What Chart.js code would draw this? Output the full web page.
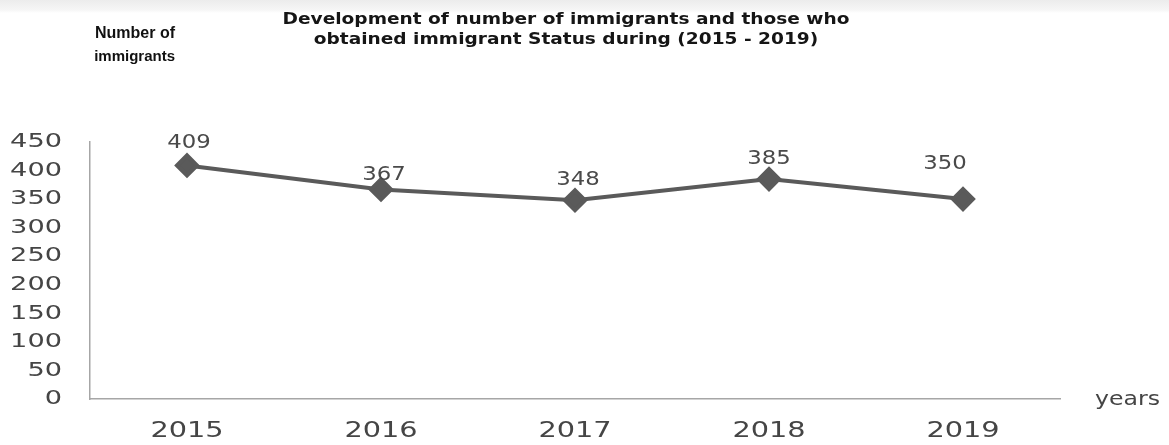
<!DOCTYPE html>
<html>
<head>
<meta charset="utf-8">
<script src="https://cdn.jsdelivr.net/npm/chart.js@4"></script>
<style>
  body { margin: 0; background: #fff; }
  #wrap { position: relative; width: 1169px; height: 445px; overflow: hidden;
    background: linear-gradient(#ececec, #f6f6f6 10px, #fff 13px); }
  #wrap canvas { position: absolute; left: 0; top: 0; }
  .txt { position: absolute; white-space: nowrap; }
  #title { left: 266px; top: 9px; width: 600px; text-align: center;
    font: bold 16px "DejaVu Sans", sans-serif; line-height: 20px; color: #151515;
    transform: scaleX(1.16); transform-origin: 300px 0; }
  #ytitle { left: 60px; top: 21px; width: 115px; text-align: right;
    font: bold 15px "Liberation Sans", sans-serif; line-height: 23px; color: #111; }
  #ytitle span { font-size: 16px; }
  #xtitle { left: 1095px; top: 386px; font: 20px "DejaVu Sans", sans-serif; color: #454545;
    transform: scaleX(1.18); transform-origin: 0 0; }
</style>
</head>
<body>
<div id="wrap">
  <canvas id="myChart" width="1169" height="445"></canvas>
  <div id="title" class="txt">Development of number of immigrants and those who<br>obtained immigrant Status during (2015 - 2019)</div>
  <div id="ytitle" class="txt"><span>Number of</span><br>immigrants</div>
  <div id="xtitle" class="txt">years</div>
</div>
<script>
/******* data *******/
const years = ["2015", "2016", "2017", "2018", "2019"];
const immigrants = [409, 367, 348, 385, 350];
const yTicks = [0, 50, 100, 150, 200, 250, 300, 350, 400, 450];
// label nudges (px) so numbers sit where they were in the picture
const labelShiftX = [2, 3, 3, 0, -18];
const labelShiftY = [-22, -14, -20, -20, -35];

/******* text helper: the scanned chart has wide, stretched glyphs *******/
function wideText(ctx, text, x, y, sx, align) {
    ctx.save();
    ctx.translate(x, y);
    ctx.scale(sx, 1);
    ctx.textAlign = align;
    ctx.textBaseline = "middle";
    ctx.fillText(text, 0, 0);
    ctx.restore();
}

/******* tick labels + value labels *******/
const textLayer = {
    id: "textLayer",
    afterDraw(chart) {
        const ctx = chart.ctx;
        const xs = chart.scales.x, ys = chart.scales.y;
        ctx.save();
        ctx.fillStyle = "#454545";
        ctx.font = '20px "DejaVu Sans", sans-serif';
        yTicks.forEach(v => wideText(ctx, String(v), 62, ys.getPixelForValue(v), 1.36, "right"));
        ctx.font = '21px "DejaVu Sans", sans-serif';
        years.forEach((y, i) => wideText(ctx, y, xs.getPixelForTick(i), 432, 1.37, "center"));

        const meta = chart.getDatasetMeta(0);
        ctx.fillStyle = "#4a4a4a";
        ctx.font = '19px "DejaVu Sans", sans-serif';
        meta.data.forEach((pt, i) => {
            wideText(ctx, String(immigrants[i]), pt.x + labelShiftX[i], pt.y + labelShiftY[i], 1.2, "center");
        });
        ctx.restore();
    }
};

const ctx = document.getElementById("myChart");
const myChart = new Chart(ctx, {
    type: "line",
    data: {
        labels: years,
        datasets: [{
            data: immigrants,
            borderColor: "#5a5a5a",
            backgroundColor: "#5a5a5a",
            borderWidth: 4,
            pointStyle: "rectRot",
            pointRadius: 10,
            pointHoverRadius: 10,
            tension: 0
        }]
    },
    options: {
        responsive: false,
        animation: false,
        layout: { padding: { top: 142, right: 109, left: 0, bottom: 0 } },
        plugins: { legend: { display: false }, tooltip: { enabled: false } },
        scales: {
            x: {
                offset: true,
                grid: { display: false, drawTicks: false },
                border: { display: true, color: "#a6a6a6", width: 1.5 },
                ticks: { display: false },
                afterFit: (scale) => { scale.height = 46; }
            },
            y: {
                min: 0,
                max: 450,
                grid: { display: false, drawTicks: false },
                border: { display: true, color: "#a6a6a6", width: 1.5 },
                afterBuildTicks: (scale) => { scale.ticks = yTicks.map(v => ({ value: v })); },
                ticks: { display: false },
                afterFit: (scale) => { scale.width = 90; }
            }
        }
    },
    plugins: [textLayer]
});
</script>
</body>
</html>
